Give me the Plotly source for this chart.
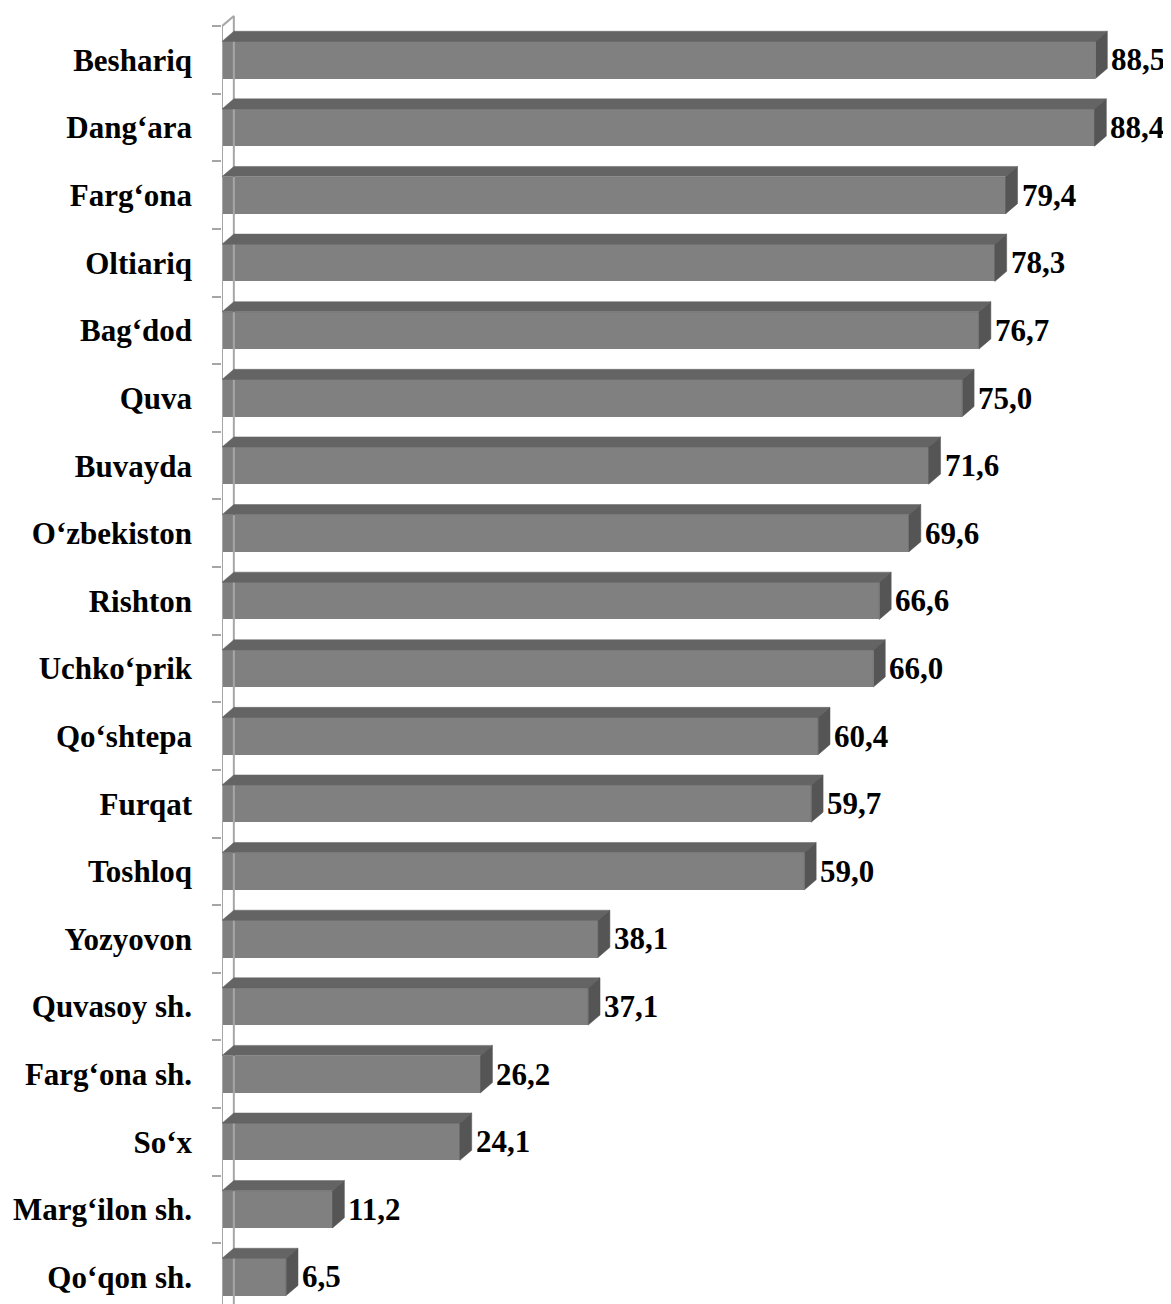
import plotly.graph_objects as go

categories = ["Beshariq", "Dang‘ara", "Farg‘ona", "Oltiariq", "Bag‘dod", "Quva",
              "Buvayda", "O‘zbekiston", "Rishton", "Uchko‘prik", "Qo‘shtepa",
              "Furqat", "Toshloq", "Yozyovon", "Quvasoy sh.", "Farg‘ona sh.",
              "So‘x", "Marg‘ilon sh.", "Qo‘qon sh."]
values = [88.5, 88.4, 79.4, 78.3, 76.7, 75.0, 71.6, 69.6, 66.6, 66.0, 60.4,
          59.7, 59.0, 38.1, 37.1, 26.2, 24.1, 11.2, 6.5]

FONT = "Liberation Serif, Times New Roman, serif"
FRONT = "#808080"
TOP = "#646464"
SIDE = "#555555"
WALL = "#a6a6a6"

n = len(categories)
idx = list(range(n))
w = 0.55          # bar thickness (category units)
dx = 1.2          # depth offset in value units
dy = 0.15         # depth offset in category units

fig = go.Figure()

# wall (front and back edges)
fig.add_trace(go.Scatter(
    x=[0, 0, None, 0, dx, dx],
    y=[19, -0.5, None, -0.5, -0.5 - dy, 19],
    mode="lines", line=dict(color=WALL, width=2), hoverinfo="skip", showlegend=False))

# front faces
fig.add_trace(go.Bar(x=values, y=idx, orientation="h", width=w,
                     marker=dict(color=FRONT, line=dict(width=0)), showlegend=False))

# top and side faces
tx, ty = [], []
sx, sy = [], []
for i, v in zip(idx, values):
    t = i - w / 2
    b = i + w / 2
    tx += [0, v, v + dx, dx, 0, None]
    ty += [t, t, t - dy, t - dy, t, None]
    sx += [v, v + dx, v + dx, v, v, None]
    sy += [t, t - dy, b - dy, b, t, None]
fig.add_trace(go.Scatter(x=tx, y=ty, fill="toself", fillcolor=TOP, mode="lines",
                         line=dict(color=TOP, width=0.5), hoverinfo="skip", showlegend=False))
fig.add_trace(go.Scatter(x=sx, y=sy, fill="toself", fillcolor=SIDE, mode="lines",
                         line=dict(color=SIDE, width=0.5), hoverinfo="skip", showlegend=False))

# dummy trace for the tick axis
fig.add_trace(go.Scatter(x=[None], y=[None], yaxis="y2", showlegend=False, hoverinfo="skip"))

# value labels
for i, v in zip(idx, values):
    fig.add_annotation(x=v + dx, y=i, xref="x", yref="y", xanchor="left", yanchor="middle",
                       xshift=3, showarrow=False, borderpad=0,
                       text=f"{v:.1f}".replace(".", ","),
                       font=dict(family=FONT, size=31, color="black", weight="bold"))

yr = [18.40, -0.769]
fig.update_layout(
    width=1163, height=1296,
    margin=dict(l=214, r=0, t=0, b=0, autoexpand=False),
    plot_bgcolor="white", paper_bgcolor="white",
    xaxis=dict(range=[0, 96.15], visible=False, automargin=False),
    yaxis=dict(range=yr, tickvals=idx, ticktext=categories, ticks="",
               showgrid=False, zeroline=False, showline=False, automargin=False,
               ticklabelstandoff=29,
               tickfont=dict(family=FONT, size=31, color="black", weight="bold")),
    yaxis2=dict(range=yr, overlaying="y", anchor="x", side="left", automargin=False,
                tickvals=[i - 0.5 for i in range(n + 1)], ticks="outside",
                ticklen=9, tickwidth=2, tickcolor=WALL, showticklabels=False,
                showgrid=False, zeroline=False, showline=False),
    bargap=0,
)

fig.write_html("out.html")
